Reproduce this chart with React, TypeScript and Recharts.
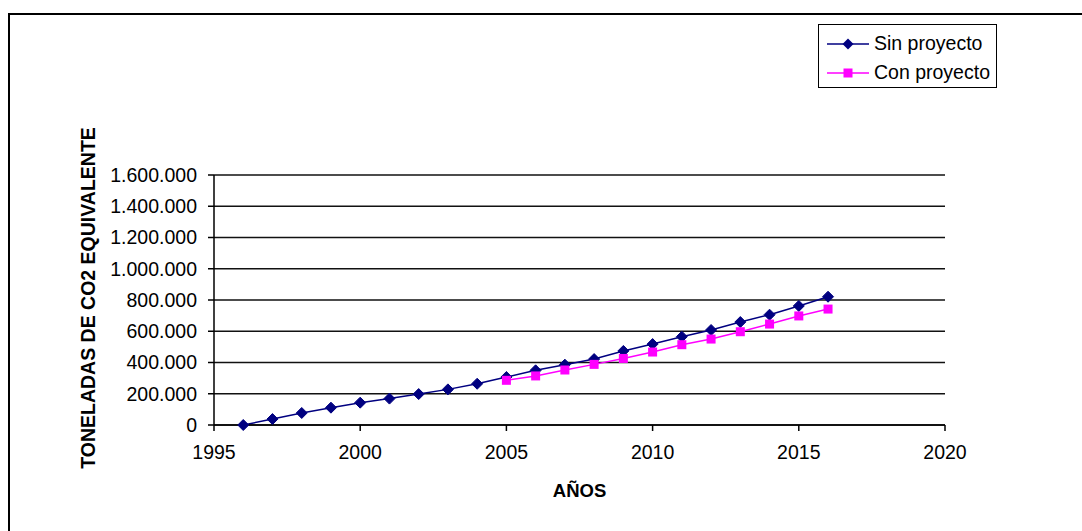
import React from 'react';
import { LineChart, Line, XAxis, YAxis, CartesianGrid } from 'recharts';

// Emisiones acumuladas (t CO2 eq) por año
const years = [1996, 1997, 1998, 1999, 2000, 2001, 2002, 2003, 2004, 2005, 2006, 2007, 2008, 2009, 2010, 2011, 2012, 2013, 2014, 2015, 2016];
const sinProyecto = [0, 38000, 77000, 111000, 143000, 169000, 198000, 228000, 264000, 307000, 350000, 386000, 422000, 474000, 518000, 565000, 608000, 659000, 706000, 762000, 821000];
const conProyecto = [null, null, null, null, null, null, null, null, null, 286000, 314000, 352000, 388000, 426000, 467000, 514000, 550000, 597000, 646000, 698000, 742000];

const xTicks = [1995, 2000, 2005, 2010, 2015, 2020];
const yTicks = [0, 200000, 400000, 600000, 800000, 1000000, 1200000, 1400000, 1600000];

const data = years.map((year, i) => ({
  year,
  sin: sinProyecto[i],
  con: conProyecto[i],
}));

const FONT = '"Liberation Sans", Arial, sans-serif';
const NAVY = '#000080';
const MAGENTA = '#FF00FF';

const formatMiles = (v: number) => String(v).replace(/\B(?=(\d{3})+(?!\d))/g, '.');

const Diamond = (props: any) => {
  const { cx, cy, index } = props;
  if (cx == null || cy == null) return <g key={`d-${index}`} />;
  const r = 5.5;
  return (
    <path
      key={`d-${index}`}
      d={`M${cx},${cy - r}L${cx + r},${cy}L${cx},${cy + r}L${cx - r},${cy}Z`}
      fill={NAVY}
      stroke={NAVY}
    />
  );
};

const Square = (props: any) => {
  const { cx, cy, index } = props;
  if (cx == null || cy == null) return <g key={`s-${index}`} />;
  const h = 4.5;
  return <rect key={`s-${index}`} x={cx - h} y={cy - h} width={h * 2} height={h * 2} fill={MAGENTA} />;
};

const YTitle = (props: any) => {
  const { viewBox } = props;
  const x = viewBox.x + 4;
  const y = viewBox.y + viewBox.height / 2 - 2;
  return (
    <text
      x={x}
      y={y}
      transform={`rotate(-90 ${x} ${y})`}
      textAnchor="middle"
      dominantBaseline="central"
      fontFamily={FONT}
      fontSize={19.5}
      fontWeight="bold"
      fill="#000"
    >
      TONELADAS DE CO2 EQUIVALENTE
    </text>
  );
};

const XTitle = (props: any) => {
  const { viewBox } = props;
  return (
    <text
      x={viewBox.x + viewBox.width / 2}
      y={viewBox.y + 65}
      textAnchor="middle"
      dominantBaseline="central"
      fontFamily={FONT}
      fontSize={18.5}
      fontWeight="bold"
      fill="#000"
    >
      AÑOS
    </text>
  );
};

const LegendBox = () => (
  <div
    style={{
      position: 'absolute',
      left: 818,
      top: 24,
      width: 179,
      height: 64,
      boxSizing: 'border-box',
      border: '1.5px solid #000',
      background: '#fff',
      fontFamily: FONT,
      fontSize: 19.5,
      color: '#000',
    }}
  >
    {[
      { name: 'Sin proyecto', color: NAVY, shape: 'diamond' },
      { name: 'Con proyecto', color: MAGENTA, shape: 'square' },
    ].map((item, i) => (
      <div
        key={item.name}
        style={{ position: 'absolute', left: 8, top: 4 + i * 29, height: 29, display: 'flex', alignItems: 'center' }}
      >
        <svg width={42} height={14} style={{ display: 'block' }}>
          <line x1={0} y1={7} x2={42} y2={7} stroke={item.color} strokeWidth={1.5} />
          {item.shape === 'diamond' ? (
            <path d="M21,1.5L26.5,7L21,12.5L15.5,7Z" fill={item.color} />
          ) : (
            <rect x={16.5} y={2.5} width={9} height={9} fill={item.color} />
          )}
        </svg>
        <span style={{ marginLeft: 5, lineHeight: '29px' }}>{item.name}</span>
      </div>
    ))}
  </div>
);

export default function App() {
  return (
    <div style={{ position: 'absolute', left: 0, top: 0, width: 1082, height: 531, background: '#fff', overflow: 'hidden' }}>
      <div
        style={{
          position: 'absolute',
          left: 8,
          top: 13,
          width: 1074,
          height: 518,
          boxSizing: 'border-box',
          borderTop: '2px solid #000',
          borderLeft: '2px solid #000',
        }}
      />
      <div style={{ position: 'absolute', left: 0, top: 0 }}>
        <LineChart width={1082} height={531} data={data} margin={{ top: 175, right: 137, bottom: 36, left: 84 }}>
          <CartesianGrid vertical={false} stroke="#111" strokeWidth={1.5} />
          <XAxis
            type="number"
            dataKey="year"
            domain={[1995, 2020]}
            ticks={xTicks}
            height={70}
            stroke="#000"
            strokeWidth={1.5}
            tickSize={6}
            tickMargin={14}
            tick={{ fill: '#000', fontFamily: FONT, fontSize: 19.5 }}
            label={<XTitle />}
          />
          <YAxis
            type="number"
            domain={[0, 1600000]}
            ticks={yTicks}
            width={130}
            stroke="#000"
            strokeWidth={1.5}
            tickSize={6}
            tickMargin={11}
            tickFormatter={formatMiles}
            tick={{ fill: '#000', fontFamily: FONT, fontSize: 19.5 }}
            label={<YTitle />}
          />
          <Line
            dataKey="sin"
            name="Sin proyecto"
            stroke={NAVY}
            strokeWidth={1.5}
            dot={Diamond}
            activeDot={false}
            isAnimationActive={false}
          />
          <Line
            dataKey="con"
            name="Con proyecto"
            stroke={MAGENTA}
            strokeWidth={1.5}
            dot={Square}
            activeDot={false}
            isAnimationActive={false}
          />
        </LineChart>
      </div>
      <LegendBox />
    </div>
  );
}
